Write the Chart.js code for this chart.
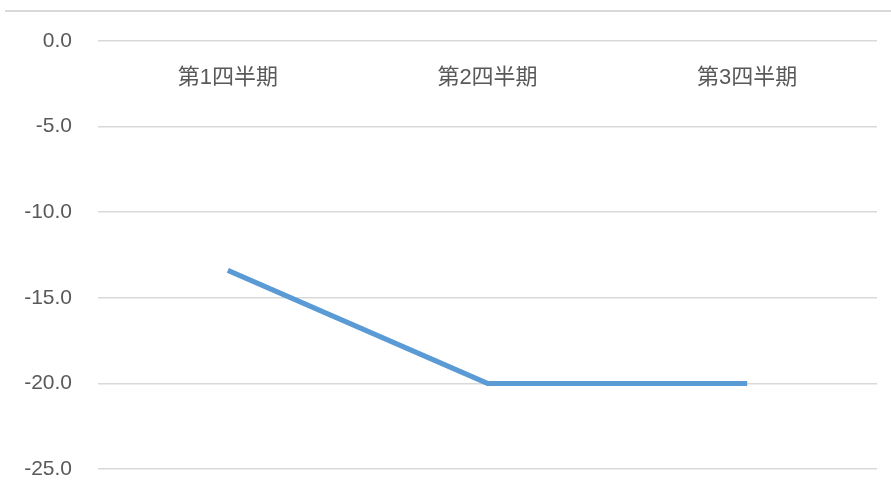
<!DOCTYPE html>
<html lang="ja">
<head>
<meta charset="utf-8">
<title>四半期推移</title>
<script src="https://cdn.jsdelivr.net/npm/chart.js@4.4.0/dist/chart.umd.min.js"></script>
<style>
    html, body {
        margin: 0;
        padding: 0;
        background: #ffffff;
    }
    #wrap {
        position: relative;
        width: 891px;
        height: 490px;
    }
    #topRule {
        position: absolute;
        left: 5px;
        right: 0;
        top: 10px;
        border-top: 2px solid #d9d9d9;
    }
</style>
</head>
<body>
<div id="wrap">
    <canvas id="quarterChart" width="891" height="490"></canvas>
    <div id="topRule"></div>
</div>

<script>
const quarters = ['第1四半期', '第2四半期', '第3四半期'];
const values = [-13.4, -20.0, -20.0];
const yMin = -25;
const yMax = 0;
const yStep = 5;

const textColor = '#595959';
const fontFamily = '"Liberation Sans", Arial, "Noto Sans CJK JP", sans-serif';

// keep the axes from reserving extra room; the frame is set by layout padding
function fixXScale(scale) {
    scale.height = 0;
    scale.paddingTop = 0;
    scale.paddingBottom = 0;
}

function fixYScale(scale) {
    scale.width = 74;
    scale.paddingTop = 0;
    scale.paddingBottom = 0;
}

function init() {
    const ctx = document.getElementById('quarterChart');

    new Chart(ctx, {
        type: 'line',
        data: {
            labels: quarters,
            datasets: [{
                data: values,
                borderColor: '#5b9bd5',
                borderWidth: 5,
                pointRadius: 0,
                pointHoverRadius: 0,
                tension: 0,
                fill: false
            }]
        },
        options: {
            responsive: false,
            animation: false,
            layout: {
                padding: { left: 24, right: 14, top: 41, bottom: 21 }
            },
            plugins: {
                legend: { display: false },
                tooltip: { enabled: false }
            },
            scales: {
                x: {
                    position: { y: 0 },
                    offset: true,
                    grid: { display: false, drawTicks: false },
                    border: { display: false },
                    afterFit: fixXScale,
                    ticks: {
                        color: textColor,
                        padding: 24,
                        font: { family: fontFamily, size: 22 }
                    }
                },
                y: {
                    min: yMin,
                    max: yMax,
                    grid: {
                        color: '#d9d9d9',
                        lineWidth: 1.5,
                        drawTicks: false
                    },
                    border: { display: false },
                    afterFit: fixYScale,
                    ticks: {
                        stepSize: yStep,
                        color: textColor,
                        padding: 26,
                        font: { family: fontFamily, size: 21 },
                        callback: value => value.toFixed(1)
                    }
                }
            }
        }
    });
}

init();
</script>
</body>
</html>
